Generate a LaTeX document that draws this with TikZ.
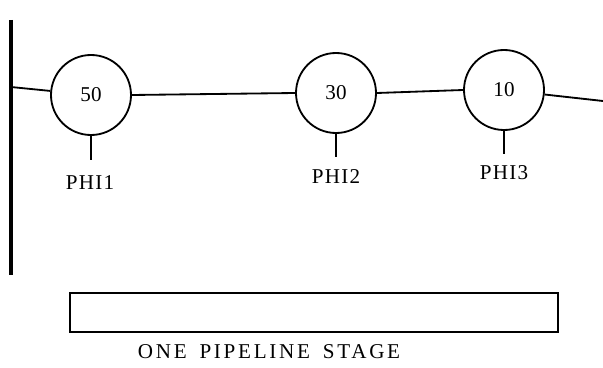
\documentclass[tikz,border=0pt]{standalone}
\usepackage{fontspec}
\setmainfont{Liberation Serif}
\newfontfamily\stagefont[LetterSpace=13,WordSpace=1.6]{Liberation Serif}
\newfontfamily\phasefont[LetterSpace=6]{Liberation Serif}
\begin{document}
\begin{tikzpicture}[
    phase/.style={circle, draw, line width=1.3pt, minimum size=2cm, inner sep=0pt},
    wire/.style={line width=1.3pt},
    every node/.style={font=\fontsize{15}{17}\selectfont}
  ]
  \useasboundingbox (0,0) rectangle (15.075,9.175);

  % register wall on the left
  \coordinate (walltop) at (0.275,8.675);
  \coordinate (wallbot) at (0.275,2.3);
  \coordinate (wallin) at (0.275,7.0);
  \draw[line width=2.4pt] (walltop) -- (wallbot);

  % the three gates
  \node[phase] (g1) at (2.275,6.8) {50};
  \node[phase] (g2) at (8.4,6.85) {30};
  \node[phase] (g3) at (12.6,6.925) {10};
  \coordinate (out) at (15.075,6.65);

  \draw[wire] (wallin) -- (g1);
  \draw[wire] (g1.east) -- (g2.west);
  \draw[wire] (g2.east) -- (g3.west);
  \draw[wire] (g3) -- (out);

  % clock phases
  \coordinate (s1) at (2.275,5.175);
  \coordinate (s2) at (8.4,5.25);
  \coordinate (s3) at (12.6,5.325);
  \draw[wire] (g1.south) -- (s1);
  \draw[wire] (g2.south) -- (s2);
  \draw[wire] (g3.south) -- (s3);
  \node (p1) at (2.25,4.6) {\phasefont PHI1};
  \node (p2) at (8.4,4.75) {\phasefont PHI2};
  \node (p3) at (12.6,4.85) {\phasefont PHI3};

  % stage bar
  \node[draw, line width=1.3pt, minimum width=12.2cm, minimum height=0.975cm, inner sep=0pt]
    (stage) at (7.85,1.3625) {};
  \node (lbl) at (6.725,0.375) {\stagefont ONE PIPELINE STAGE};
\end{tikzpicture}
\end{document}
